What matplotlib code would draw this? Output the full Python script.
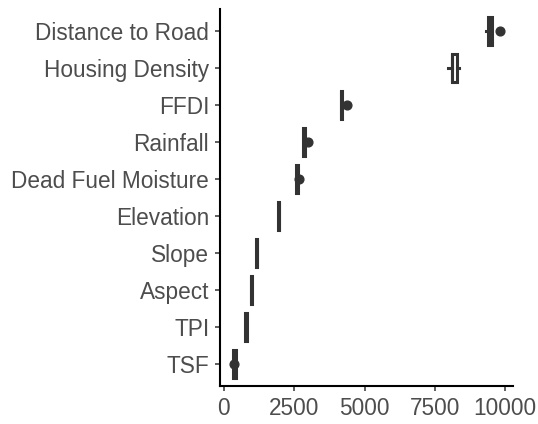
import matplotlib
matplotlib.use("Agg")
import matplotlib.pyplot as plt

# categorias (de abajo hacia arriba)
variables = ["TSF", "TPI", "Aspect", "Slope", "Elevation", "Dead Fuel Moisture",
             "Rainfall", "FFDI", "Housing Density", "Distance to Road"]
bigote_inf = [310, 762, 955, 1145, 1925, 2560, 2825, 4150, 7975, 9320]
q1 = [315, 767, 960, 1150, 1930, 2570, 2830, 4155, 8090, 9370]
mediana = [365, 795, 978, 1165, 1945, 2595, 2855, 4180, 8100, 9440]
q3 = [418, 822, 995, 1180, 1960, 2625, 2885, 4210, 8300, 9520]
bigote_sup = [425, 827, 1000, 1185, 1965, 2630, 2890, 4215, 8360, 9540]
atipicos = [[363], [], [], [], [], [2680], [2975], [4360], [], [9815]]

color = "#333333"
plt.rcParams["font.family"] = ["Liberation Sans", "DejaVu Sans"]

fig = plt.figure(figsize=(5.38, 4.24), dpi=100)
ax = fig.add_axes([220.3 / 538, 38 / 424, (513 - 220.3) / 538, (386 - 9) / 424])

stats = []
for i in range(len(variables)):
    stats.append({"whislo": bigote_inf[i], "q1": q1[i], "med": mediana[i],
                  "q3": q3[i], "whishi": bigote_sup[i], "fliers": atipicos[i]})

lw = 2.2
ax.bxp(stats, positions=range(1, len(variables) + 1), vert=False, widths=0.75,
       showcaps=False, patch_artist=True,
       boxprops=dict(facecolor="white", edgecolor=color, linewidth=lw),
       medianprops=dict(color=color, linewidth=lw),
       whiskerprops=dict(color=color, linewidth=lw),
       flierprops=dict(marker="o", markerfacecolor=color, markeredgecolor=color,
                       markersize=6.3))

ax.set_xlim(-124, 10274)
ax.set_ylim(0.4, 10.6)
ax.set_yticks(range(1, len(variables) + 1))
ax.set_yticklabels(variables)
ax.set_xticks([0, 2500, 5000, 7500, 10000])
ax.set_xticklabels(["0", "2500", "5000", "7500", "10000"])

for lado in ["top", "right"]:
    ax.spines[lado].set_visible(False)
for lado in ["left", "bottom"]:
    ax.spines[lado].set_linewidth(1.5)
    ax.spines[lado].set_color("black")
ax.tick_params(axis="both", colors=color, width=1.1, length=3.6, pad=4.4,
               labelsize=16.3, labelcolor="#4D4D4D")

plt.savefig("out.png", dpi=100)
